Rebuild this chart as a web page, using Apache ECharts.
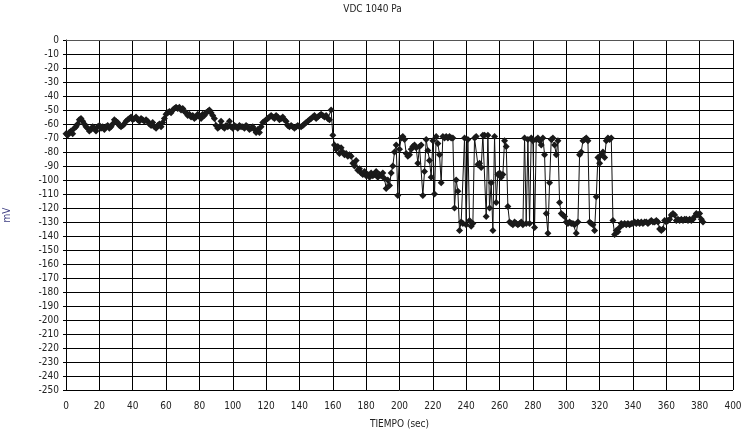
<!DOCTYPE html>
<html>
<head>
<meta charset="utf-8">
<title>VDC 1040 Pa</title>
<script src="https://cdn.jsdelivr.net/npm/echarts@6/dist/echarts.min.js"></script>
<style>
  html, body { margin: 0; padding: 0; background: #fff; }
  #chart { width: 745px; height: 433px; }
</style>
</head>
<body>
<div id="chart"></div>
<script>
// tramo 1: 0..159 s, una muestra por segundo
var startA = 0;
var mvA = [
  -67,-68,-66,-65,-67,-63,-62,-60,-57,-56,
  -58,-60,-62,-63,-65,-64,-62,-63,-65,-62,
  -61,-63,-62,-64,-62,-61,-63,-62,-60,-57,
  -58,-59,-61,-62,-61,-60,-58,-57,-56,-55,
  -57,-56,-55,-57,-58,-56,-57,-58,-57,-58,
  -60,-61,-59,-62,-63,-61,-60,-62,-59,-56,
  -53,-52,-51,-52,-50,-49,-48,-49,-48,-50,
  -49,-51,-52,-54,-53,-55,-54,-56,-55,-53,
  -54,-56,-53,-54,-52,-51,-50,-52,-54,-56,
  -61,-63,-62,-58,-62,-63,-61,-62,-58,-62,
  -63,-61,-62,-63,-61,-62,-62,-63,-61,-62,
  -64,-63,-62,-64,-66,-64,-66,-62,-59,-58,
  -57,-56,-55,-54,-55,-56,-54,-55,-57,-56,
  -55,-57,-58,-61,-62,-61,-62,-63,-62,-61,
  -62,-62,-61,-60,-59,-58,-57,-56,-55,-54,
  -56,-55,-54,-53,-54,-55,-54,-56,-57,-50
];
// tramo 2: 160..199 s, caida
var startB = 160;
var mvB = [
  -68,-75,-78,-76,-81,-77,-80,-82,-81,-83,
  -82,-83,-88,-90,-86,-93,-92,-95,-96,-94,
  -97,-96,-98,-95,-97,-96,-94,-98,-96,-97,
  -95,-99,-106,-100,-104,-95,-90,-80,-75,-111
];
// tramo 3: 200..330 s, oscilacion
var startC = 200;
var mvC = [
  -78,-70,-69,-71,-81,-83,-82,-78,-76,-75,
  -77,-88,-76,-75,-111,-94,-71,-79,-86,-98,
  -72,-110,-69,-74,-82,-102,-69,-70,-69,-70,
  -69,-70,-70,-120,-100,-108,-136,-130,-131,-70,
  -132,-71,-129,-133,-131,-70,-69,-89,-88,-91,
  -68,-68,-126,-68,-120,-102,-136,-69,-116,-96,
  -95,-98,-96,-72,-76,-119,-130,-131,-132,-130,
  -131,-132,-131,-130,-132,-70,-131,-71,-131,-70,
  -72,-134,-71,-70,-72,-75,-70,-82,-124,-138,
  -102,-71,-70,-75,-82,-72,-116,-124,-125,-126,
  -130,-131,-130,-131,-131,-132,-138,-130,-82,-80,
  -72,-71,-70,-72,-130,-131,-132,-136,-112,-84,
  -88,-82,-80,-84,-72,-70,-71,-70,-129,-139,
  -136
];
// tramo 4: 331..382 s, meseta
var startD = 331;
var mvD = [
  -137,-134,-131,-132,-131,-132,-131,-132,-131,-131,
  -130,-131,-130,-131,-130,-131,-130,-130,-131,-130,
  -129,-130,-130,-129,-130,-135,-136,-135,-129,-130,
  -129,-128,-125,-124,-125,-129,-128,-129,-128,-129,
  -128,-128,-129,-128,-129,-128,-126,-124,-125,-124,
  -128,-130
];

var xTicks = { min: 0, max: 400, interval: 20 };
var yTicks = { min: -250, max: 0, interval: 10 };

function pares(start, arr) {
  var out = [];
  for (var i = 0; i < arr.length; i++) out.push([start + i, arr[i]]);
  return out;
}
var serie = [].concat(pares(startA, mvA), pares(startB, mvB), pares(startC, mvC), pares(startD, mvD));

var fuente = "'Liberation Sans Narrow', 'DejaVu Sans Condensed', sans-serif";
var chart = echarts.init(document.getElementById('chart'));
chart.setOption({
  animation: false,
  backgroundColor: '#fff',
  title: {
    text: 'VDC 1040 Pa',
    left: 'center',
    top: -1,
    textStyle: { fontFamily: fuente, fontSize: 10, fontWeight: 'normal', color: '#222' }
  },
  grid: { left: 66, right: 12, top: 40, bottom: 43, containLabel: false, outerBoundsMode: 'none' },
  xAxis: {
    type: 'value',
    min: xTicks.min, max: xTicks.max, interval: xTicks.interval,
    name: 'TIEMPO (sec)',
    nameLocation: 'middle',
    nameGap: 29,
    nameTextStyle: { fontFamily: fuente, fontSize: 10, color: '#222' },
    axisLine: { lineStyle: { color: '#555', width: 1 } },
    axisTick: { show: false },
    axisLabel: { fontFamily: fuente, fontSize: 10, color: '#222', margin: 11 },
    splitLine: { show: true, lineStyle: { color: '#000', width: 1 } }
  },
  yAxis: {
    type: 'value',
    min: yTicks.min, max: yTicks.max, interval: yTicks.interval,
    name: 'mV',
    nameLocation: 'middle',
    nameGap: 54,
    nameTextStyle: { fontFamily: fuente, fontSize: 10, color: '#3a3a80' },
    axisLine: { show: true, lineStyle: { color: '#000', width: 1 } },
    axisTick: { show: true, length: 3, lineStyle: { color: '#000' } },
    axisLabel: { fontFamily: fuente, fontSize: 10, color: '#222', margin: 7 },
    splitLine: { show: true, lineStyle: { color: '#000', width: 1 } }
  },
  series: [{
    type: 'line',
    data: serie,
    symbol: 'diamond',
    symbolSize: 7,
    showAllSymbol: true,
    lineStyle: { color: '#111', width: 1 },
    itemStyle: { color: '#1a1a1a' }
  }]
});
</script>
</body>
</html>
